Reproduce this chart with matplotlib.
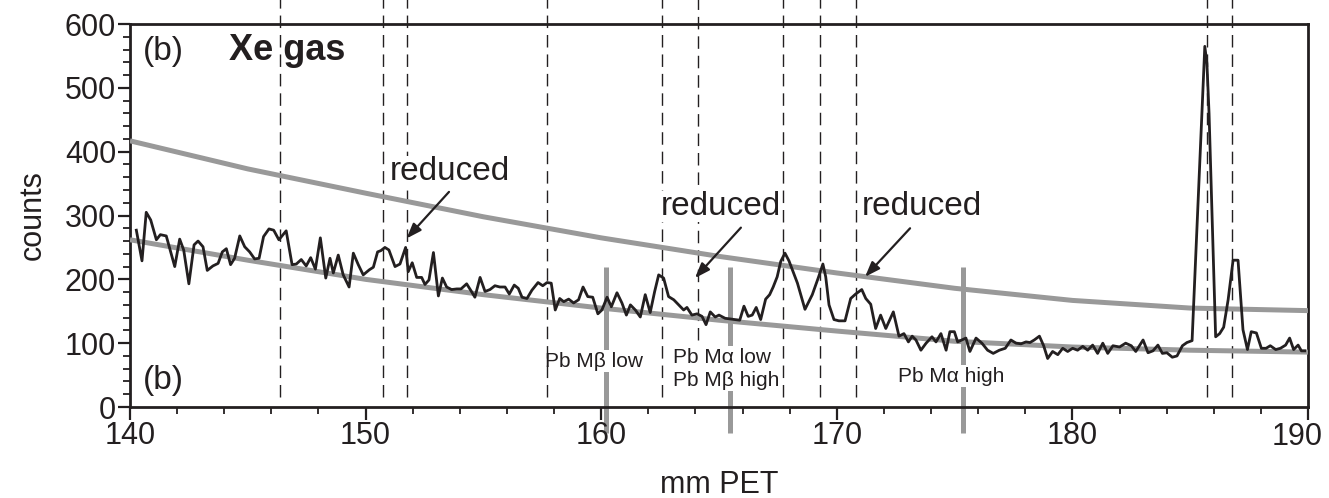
import matplotlib
matplotlib.use("Agg")
import matplotlib.pyplot as plt
from matplotlib.ticker import MultipleLocator

plt.rcParams['font.family'] = ['Liberation Sans', 'DejaVu Sans']

# --- data (mm PET, counts) ---
pet_mm = [
    140.27, 140.51, 140.69, 140.88, 141.12, 141.29, 141.54, 141.90, 142.11, 142.28,
    142.50, 142.72, 142.89, 143.10, 143.28, 143.52, 143.74, 143.92, 144.09, 144.27,
    144.44, 144.66, 144.87, 145.08, 145.29, 145.48, 145.67, 145.90, 146.10, 146.32,
    146.63, 146.88, 147.06, 147.27, 147.48, 147.67, 147.87, 148.08, 148.31,
    148.49, 148.63, 148.84, 149.05, 149.30, 149.48, 149.69, 149.90, 150.16, 150.33,
    150.51, 150.65, 150.82, 150.99, 151.25, 151.46, 151.70, 151.81, 151.98, 152.17,
    152.38, 152.52, 152.69, 152.88, 153.09, 153.26, 153.44, 153.65, 153.87, 154.05,
    154.29, 154.46, 154.64, 154.86, 155.07, 155.28, 155.49, 155.70, 155.92, 156.10,
    156.31, 156.48,
    156.64, 156.85, 157.06, 157.32, 157.52, 157.70, 157.88, 158.05, 158.24, 158.41,
    158.62, 158.83, 159.04, 159.23, 159.43, 159.64, 159.86, 160.03, 160.25, 160.43,
    160.67, 160.88, 161.07, 161.24, 161.45, 161.66, 161.87, 162.08, 162.27, 162.44,
    162.65, 162.86, 163.08, 163.29, 163.50, 163.64, 163.85, 164.07, 164.28, 164.45,
    164.63, 164.84,
    165.00, 165.26, 165.88, 166.06, 166.24, 166.41, 166.58, 166.77, 166.98, 167.15,
    167.30, 167.47, 167.62, 167.80, 167.97, 168.33, 168.65, 168.96, 169.22, 169.41,
    169.53, 169.67, 169.88, 170.09, 170.35, 170.59, 170.80, 171.06, 171.23, 171.44,
    171.65, 171.86, 172.08, 172.40, 172.64, 172.85, 173.04, 173.20,
    173.36, 173.57, 173.79, 174.04, 174.21, 174.42, 174.64, 174.80, 174.99, 175.13,
    175.48, 175.65, 175.91, 176.16, 176.40, 176.64, 176.90, 177.15, 177.39, 177.61,
    177.82, 178.03, 178.20, 178.38, 178.60, 178.78, 178.95, 179.16, 179.38, 179.59,
    179.80, 180.01, 180.22, 180.44, 180.65, 180.86, 181.07, 181.29, 181.50,
    181.72, 182.00, 182.26, 182.50, 182.69, 183.00, 183.21, 183.42, 183.63, 183.82,
    184.01, 184.24, 184.44, 184.67, 184.86, 185.08, 185.62, 185.71, 185.80, 186.08,
    186.25, 186.42, 186.61, 186.82, 187.03, 187.24, 187.43, 187.59, 187.81, 188.02,
    188.22, 188.40, 188.63, 188.83, 189.05, 189.22, 189.39, 189.58, 189.72, 189.86,
]
counts = [
    277, 229, 305, 293, 262, 270, 268, 220, 263, 246,
    193, 254, 260, 251, 214, 221, 225, 243, 248, 223,
    233, 268, 251, 243, 232, 233, 267, 279, 277, 262,
    276, 223, 224, 231, 221, 234, 216, 265, 202,
    233, 210, 238, 207, 188, 241, 223, 207, 215, 219,
    243, 245, 250, 246, 220, 224, 250, 212, 226, 203,
    203, 192, 199, 242, 174, 202, 188, 184, 185, 185,
    193, 183, 172, 203, 181, 184, 190, 188, 188, 177,
    191, 186,
    172, 170, 183, 195, 190, 195, 194, 152, 170, 165,
    169, 163, 168, 188, 173, 172, 146, 152, 172, 157,
    179, 163, 144, 160, 152, 141, 176, 148, 181, 207,
    202, 173, 168, 160, 152, 156, 144, 146, 142, 129,
    149, 141,
    144, 139, 136, 158, 142, 144, 156, 137, 169, 176,
    188, 204, 228, 241, 229, 194, 153, 176, 203, 224,
    204, 160, 137, 135, 135, 170, 177, 184, 170, 161,
    123, 144, 123, 149, 111, 115, 102, 111,
    105, 89, 100, 110, 102, 115, 89, 118, 118, 102,
    108, 87, 108, 100, 89, 84, 89, 92, 105, 100,
    99, 102, 101, 105, 111, 96, 76, 87, 82, 92,
    87, 92, 89, 95, 89, 97, 84, 100, 84,
    96, 94, 100, 96, 87, 105, 85, 88, 97, 84,
    85, 78, 80, 96, 101, 104, 565, 538, 460, 110,
    115, 125, 168, 230, 230, 121, 90, 118, 116, 92,
    92, 96, 90, 92, 97, 108, 90, 97, 88, 88,
]

# background curves (grey)
bg_mm = [140, 145, 150, 155, 160, 165, 170, 175, 180, 185, 190]
bg_upper = [417, 373, 335, 298, 265, 236, 210, 186, 167, 155, 151]
bg_lower = [262, 230, 200, 176, 155, 136, 119, 103, 94, 89, 86]

# dashed reference lines (mm PET)
dashed_mm = [146.37, 150.74, 151.76, 157.70, 162.58, 164.11, 167.72,
             169.29, 170.81, 185.71, 186.77]

# Pb lines (thick grey)
pb_mm = [160.2, 165.47, 175.36]
pb_labels = ["Pb M\u03b2 low", "Pb M\u03b1 low\nPb M\u03b2 high", "Pb M\u03b1 high"]
pb_label_mm = [157.61, 163.05, 172.60]
pb_label_y = [72, 60, 48]

# "reduced" annotations: text position, arrow tail, arrow head
red_text = [(153.58, 369), (165.08, 314), (173.60, 314)]
red_tail = [(153.54, 337), (165.93, 281), (173.11, 280)]
red_head = [(151.74, 264), (163.98, 202), (171.20, 204)]

x_ticks = [140, 150, 160, 170, 180, 190]

black = '#231f20'
grey = '#999999'

fig = plt.figure(figsize=(13.29, 4.98), dpi=100)
ax = fig.add_axes([0.0978, 0.1827, 0.8864, 0.7691])
ax.set_xlim(140, 190)
ax.set_ylim(0, 600)

# dashed lines run above the frame up to the figure edge
for xv in dashed_mm:
    bottom = 105 if abs(xv - 164.11) < 0.01 else 15
    ax.plot([xv, xv], [bottom, 650], color=black, lw=1.0, ls=(0, (9, 5)),
            clip_on=False, zorder=3)

for xv in pb_mm:
    ax.plot([xv, xv], [219, -41], color=grey, lw=3.6, clip_on=False,
            zorder=1, solid_capstyle='butt')

for lab, xv, yv in zip(pb_labels, pb_label_mm, pb_label_y):
    ax.text(xv, yv, lab, fontsize=15, ha='left', va='center', color=black,
            linespacing=1.25, zorder=2,
            bbox=dict(facecolor='white', edgecolor='none', pad=1))

ax.plot(bg_mm, bg_upper, color=grey, lw=3.6, zorder=4, solid_capstyle='butt')
ax.plot(bg_mm, bg_lower, color=grey, lw=3.6, zorder=4, solid_capstyle='butt')
ax.plot(pet_mm, counts, color=black, lw=2.0, zorder=5)

for (tx, ty), tail, head in zip(red_text, red_tail, red_head):
    ax.text(tx, ty, "reduced", fontsize=24, ha='center', va='center',
            color=black, zorder=4,
            bbox=dict(facecolor='white', edgecolor='none', pad=0))
    ax.annotate('', xy=head, xytext=tail, zorder=6,
                arrowprops=dict(arrowstyle='-|>,head_length=0.6,head_width=0.22',
                                color=black, lw=1.6, mutation_scale=15,
                                shrinkA=0, shrinkB=0))

ax.text(140.55, 557, "(b)", fontsize=24, ha='left', va='center', color=black)
ax.text(144.2, 559, "Xe gas", fontsize=26, fontweight='bold', ha='left',
        va='center', color=black)
ax.text(140.55, 42, "(b)", fontsize=24, ha='left', va='center', color=black)

# axes styling
for s in ax.spines.values():
    s.set_linewidth(2.0)
    s.set_color(black)
ax.set_xticks(x_ticks)
# last label sits a little left so it stays inside the picture
ax.set_xticklabels([str(t) for t in x_ticks[:-1]] + [''])
ax.annotate(str(x_ticks[-1]), xy=(x_ticks[-1], 0), xycoords='data',
            xytext=(-8, -10.5), textcoords='offset points', ha='center',
            va='top', fontsize=22, color=black, annotation_clip=False)
ax.xaxis.set_minor_locator(MultipleLocator(2))
ax.yaxis.set_major_locator(MultipleLocator(100))
ax.yaxis.set_minor_locator(MultipleLocator(20))
ax.tick_params(which='major', direction='out', length=9, width=1.6,
               labelsize=22, pad=1, color=black, labelcolor=black)
ax.tick_params(which='minor', direction='out', length=5, width=1.3, color=black)

ax.set_xlabel("mm PET", fontsize=22, color=black)
ax.set_ylabel("counts", fontsize=22, color=black)
ax.xaxis.set_label_coords(0.5, -0.165)
ax.yaxis.set_label_coords(-0.07, 0.5)

fig.savefig("out.png", dpi=100)
